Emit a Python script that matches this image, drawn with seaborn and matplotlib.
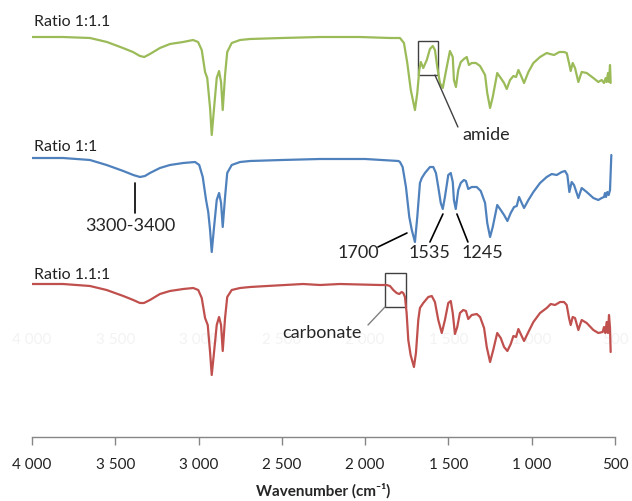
import numpy as np
import pandas as pd
import matplotlib
matplotlib.use("Agg")
import matplotlib.pyplot as plt
import seaborn as sns
from matplotlib.patches import Rectangle

# ---- spectra (wavenumber cm-1, relative signal a.u.) ----
# Ratio 1:1.1 (green)
wn_11_1 = [4000, 3814, 3652, 3550, 3454, 3394, 3352, 3326, 3292, 3232, 3172, 3093, 3033,
           3003, 2981, 2961, 2948, 2931, 2921, 2907, 2891, 2877, 2865, 2855, 2841, 2828,
           2801, 2751, 2691, 2500, 2271, 2031, 1850, 1791, 1767, 1747, 1726, 1701, 1687,
           1675, 1666, 1651, 1630, 1611, 1594, 1581, 1567, 1551, 1534, 1510, 1491, 1474,
           1467, 1455, 1441, 1426, 1407, 1390, 1377, 1360, 1335, 1310, 1280, 1267, 1250,
           1234, 1207, 1186, 1166, 1150, 1130, 1110, 1094, 1080, 1066, 1046, 1020, 990,
           950, 910, 890, 866, 834, 806, 790, 776, 766, 754, 740, 720, 700, 670, 630,
           600, 580, 566, 556, 550, 542, 536, 530, 526]
sig_11_1 = [0, 0, -1, -5, -11, -15, -19, -20, -17, -11, -7, -5, -3,
            -5, -13, -35, -41, -71, -98, -71, -41, -34, -45, -73, -38, -15,
            -6, -3, -2, -1, 0, 0, -1, -1, -6, -26, -53, -73, -56,
            -33, -25, -31, -23, -12, -9, -13, -30, -46, -51, -30, -14, -20,
            -43, -50, -33, -25, -22, -20, -28, -26, -26, -29, -38, -56, -71,
            -60, -36, -41, -46, -52, -43, -39, -40, -33, -38, -46, -35, -26,
            -20, -16, -17, -18, -15, -15, -16, -26, -34, -26, -31, -45, -35, -36, -41,
            -45, -43, -46, -41, -45, -36, -45, -28, -46]

# Ratio 1:1 (blue)
wn_1_1 = [4000, 3814, 3652, 3552, 3452, 3392, 3352, 3322, 3292, 3232, 3172, 3092, 3021,
          2996, 2975, 2955, 2942, 2931, 2921, 2907, 2891, 2877, 2865, 2855, 2841, 2828,
          2801, 2751, 2691, 2500, 2271, 2000, 1800, 1791, 1775, 1755, 1735, 1720, 1701,
          1687, 1671, 1660, 1641, 1611, 1591, 1575, 1561, 1546, 1534, 1521, 1501, 1486,
          1474, 1467, 1456, 1441, 1426, 1407, 1395, 1381, 1360, 1330, 1306, 1280, 1267,
          1250, 1234, 1207, 1186, 1166, 1146, 1126, 1106, 1090, 1076, 1060, 1046, 1020,
          990, 950, 910, 880, 850, 820, 800, 786, 774, 760, 746, 720, 700, 670, 630,
          600, 580, 566, 560, 554, 546, 538, 530, 522]
sig_1_1 = [0, 0, -2, -7, -13, -17, -19, -18, -15, -10, -7, -5, -4,
           -7, -19, -42, -54, -72, -94, -69, -42, -35, -45, -69, -39, -15,
           -7, -4, -3, -2, -1, -1, -3, -4, -9, -29, -59, -72, -84,
           -59, -25, -20, -15, -9, -9, -15, -29, -45, -51, -39, -17, -15,
           -24, -42, -51, -32, -25, -22, -23, -31, -29, -29, -33, -45, -65,
           -79, -69, -47, -52, -57, -63, -55, -49, -48, -39, -45, -50, -42,
           -34, -25, -19, -16, -17, -14, -13, -17, -34, -24, -27, -40, -30, -34, -40,
           -42, -40, -39, -35, -39, -34, -37, -32, 3]

# Ratio 1.1:1 (red)
wn_1_11 = [4000, 3814, 3652, 3552, 3452, 3392, 3352, 3328, 3292, 3232, 3172, 3092, 3032,
           3002, 2981, 2961, 2945, 2931, 2921, 2907, 2891, 2877, 2865, 2855, 2841, 2828,
           2801, 2751, 2691, 2589, 2373, 2271, 2151, 1911, 1871, 1851, 1831, 1811, 1795,
           1781, 1771, 1761, 1751, 1741, 1727, 1707, 1695, 1681, 1671, 1651, 1621, 1600,
           1581, 1561, 1540, 1521, 1501, 1486, 1474, 1461, 1447, 1431, 1411, 1395, 1381,
           1360, 1330, 1310, 1286, 1270, 1250, 1231, 1207, 1186, 1166, 1146, 1126, 1110,
           1094, 1080, 1066, 1046, 1020, 990, 950, 910, 886, 860, 830, 806, 790, 776,
           766, 754, 740, 720, 700, 670, 630, 600, 574, 566, 558, 550, 542, 536, 530, 526]
sig_1_11 = [1, 1, -1, -5, -11, -15, -18, -18, -15, -9, -6, -4, -3,
            -5, -13, -33, -40, -67, -90, -67, -40, -32, -40, -66, -33, -12,
            -5, -3, -2, -1, 1, 0, 1, 0, 0, -1, -5, -8, -9,
            -7, -8, -12, -28, -55, -70, -82, -68, -35, -23, -18, -12, -11,
            -17, -35, -48, -35, -18, -16, -28, -49, -42, -28, -25, -26, -34,
            -30, -29, -32, -43, -62, -77, -65, -48, -53, -62, -66, -59, -51,
            -52, -44, -49, -56, -47, -37, -28, -23, -19, -20, -17, -17, -20, -33,
            -40, -32, -33, -45, -35, -38, -45, -48, -47, -42, -48, -37, -48, -30, -43, -67]

labels = ["Ratio 1:1.1", "Ratio 1:1", "Ratio 1.1:1"]
offsets = [400, 279, 152]
colors = ["#9BBB59", "#4F81BD", "#C0504D"]
tick_vals = [4000, 3500, 3000, 2500, 2000, 1500, 1000, 500]
tick_text = ["4 000", "3 500", "3 000", "2 500", "2 000", "1 500", "1 000", "500"]

frames = []
for name, wn, sig, off in zip(labels, [wn_11_1, wn_1_1, wn_1_11],
                              [sig_11_1, sig_1_1, sig_1_11], offsets):
    frames.append(pd.DataFrame({"wn": wn, "val": np.array(sig) + off, "ratio": name}))
df = pd.concat(frames, ignore_index=True)

sns.set_style("white")
plt.rcParams["font.family"] = ["Lato", "DejaVu Sans"]

fig = plt.figure(figsize=(6.32, 5.01), dpi=100)
ax = fig.add_axes([32 / 632, 64 / 501, 583 / 632, 437 / 501])

sns.lineplot(data=df, x="wn", y="val", hue="ratio", palette=dict(zip(labels, colors)),
             estimator=None, sort=True, linewidth=1.6, legend=False, ax=ax)

ax.set_xlim(4000, 500)
ax.set_ylim(0, 437)
ax.set_yticks([])
ax.set_ylabel("")
for side in ["left", "right", "top"]:
    ax.spines[side].set_visible(False)
ax.spines["bottom"].set_color("#868686")
ax.spines["bottom"].set_linewidth(1.0)
ax.set_xticks(tick_vals)
ax.set_xticklabels(tick_text, fontsize=11, color="#222222")
ax.tick_params(axis="x", direction="out", length=6, width=1, color="#868686", pad=9,
               bottom=True)
ax.set_xlabel("Wavenumber (cm⁻¹)", fontsize=11, fontweight="bold", labelpad=8)

# faint ghost tick labels seen behind the lower spectrum
for t, s in zip(tick_vals, tick_text):
    ax.text(t, 97, s, ha="center", va="center", fontsize=11, color="#f3f3f3", zorder=0)

# curve labels
for name, h in zip(labels, [415, 290, 162]):
    ax.text(3985, h, name, ha="left", va="center", fontsize=11.5, color="#222222")

# peak annotations
lk = dict(color="black", lw=1.2)
ax.plot([3382, 3382], [224, 254], **lk)
ax.text(3412, 211, "3300-3400", ha="center", va="center", fontsize=13)

ax.plot([1923, 1749], [190, 204], **lk)
ax.text(2043, 184, "1700", ha="center", va="center", fontsize=13)
ax.plot([1611, 1533], [195, 223], **lk)
ax.text(1611, 184, "1535", ha="center", va="center", fontsize=13)
ax.plot([1383, 1449], [195, 223], **lk)
ax.text(1298, 184, "1245", ha="center", va="center", fontsize=13)

box = dict(fill=False, edgecolor="#404040", lw=1.0)
ax.add_patch(Rectangle((1563, 362), 120, 34, **box))
ax.plot([1581, 1443], [362, 310], color="#404040", lw=1.0)
ax.text(1419, 302, "amide", ha="left", va="center", fontsize=13)

ax.add_patch(Rectangle((1755, 130), 126, 34, **box))
ax.plot([1881, 1983], [130, 112], color="#808080", lw=1.0)
ax.text(2259, 104, "carbonate", ha="center", va="center", fontsize=13)

fig.savefig("out.png", dpi=100)
